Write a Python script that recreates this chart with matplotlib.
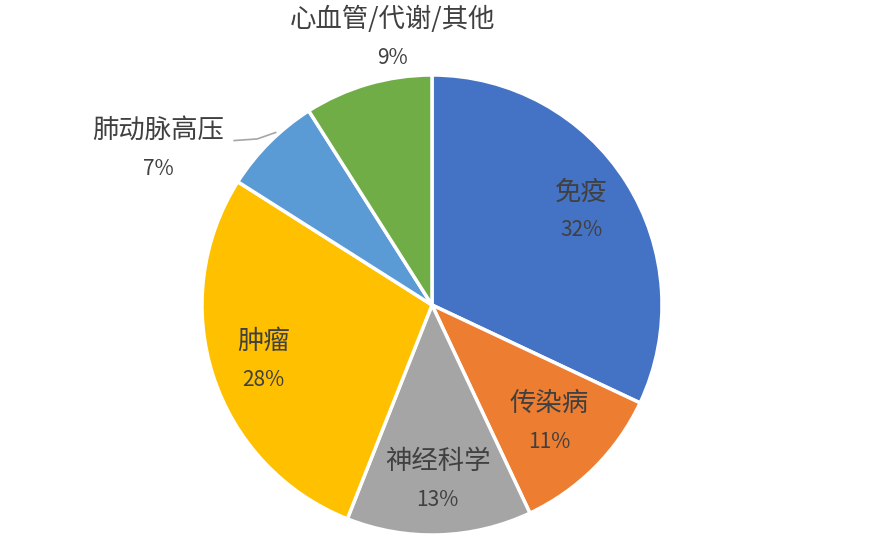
import numpy as np
import matplotlib.pyplot as plt

plt.rcParams['font.family'] = ['Noto Sans CJK SC', 'DejaVu Sans']

labels = ["免疫", "传染病", "神经科学", "肿瘤", "肺动脉高压", "心血管/代谢/其他"]
shares = [32, 11, 13, 28, 7, 9]
colors = ["#4472C4", "#ED7D31", "#A5A5A5", "#FFC000", "#5B9BD5", "#70AD47"]

# label layout: radius as fraction of pie radius, plus manual spots for the outside ones
label_dist = [0.77, 0.72, 0.76, 0.77, None, None]
outside_pos = {4: (-1.19, 0.68), 5: (-0.17, 1.16)}

W, H = 890, 541
cx, cy, R = 432, 305, 230

fig = plt.figure(figsize=(W / 100, H / 100), dpi=100)
ax = fig.add_axes([(cx - R) / W, (H - cy - R) / H, 2 * R / W, 2 * R / H])

wedges, _ = ax.pie(shares, colors=colors, startangle=90, counterclock=False,
                   radius=1, wedgeprops=dict(edgecolor="white", linewidth=2.5))
ax.set_xlim(-1, 1)
ax.set_ylim(-1, 1)
ax.axis("off")

txt = "#404040"
for i, w in enumerate(wedges):
    mid = np.deg2rad((w.theta1 + w.theta2) / 2)
    if label_dist[i] is not None:
        x = label_dist[i] * np.cos(mid)
        y = label_dist[i] * np.sin(mid)
    else:
        x, y = outside_pos[i]
    ax.text(x, y + 0.08, labels[i], ha="center", va="center", fontsize=19, color=txt)
    ax.text(x, y - 0.087, f"{shares[i]}%", ha="center", va="center", fontsize=15, color=txt)

# leader line for the small slice
ax.plot([-0.86, -0.76, -0.68], [0.715, 0.722, 0.75], color="#A6A6A6", linewidth=1.2,
        clip_on=False)

fig.savefig("out.png", dpi=100, facecolor="white")
